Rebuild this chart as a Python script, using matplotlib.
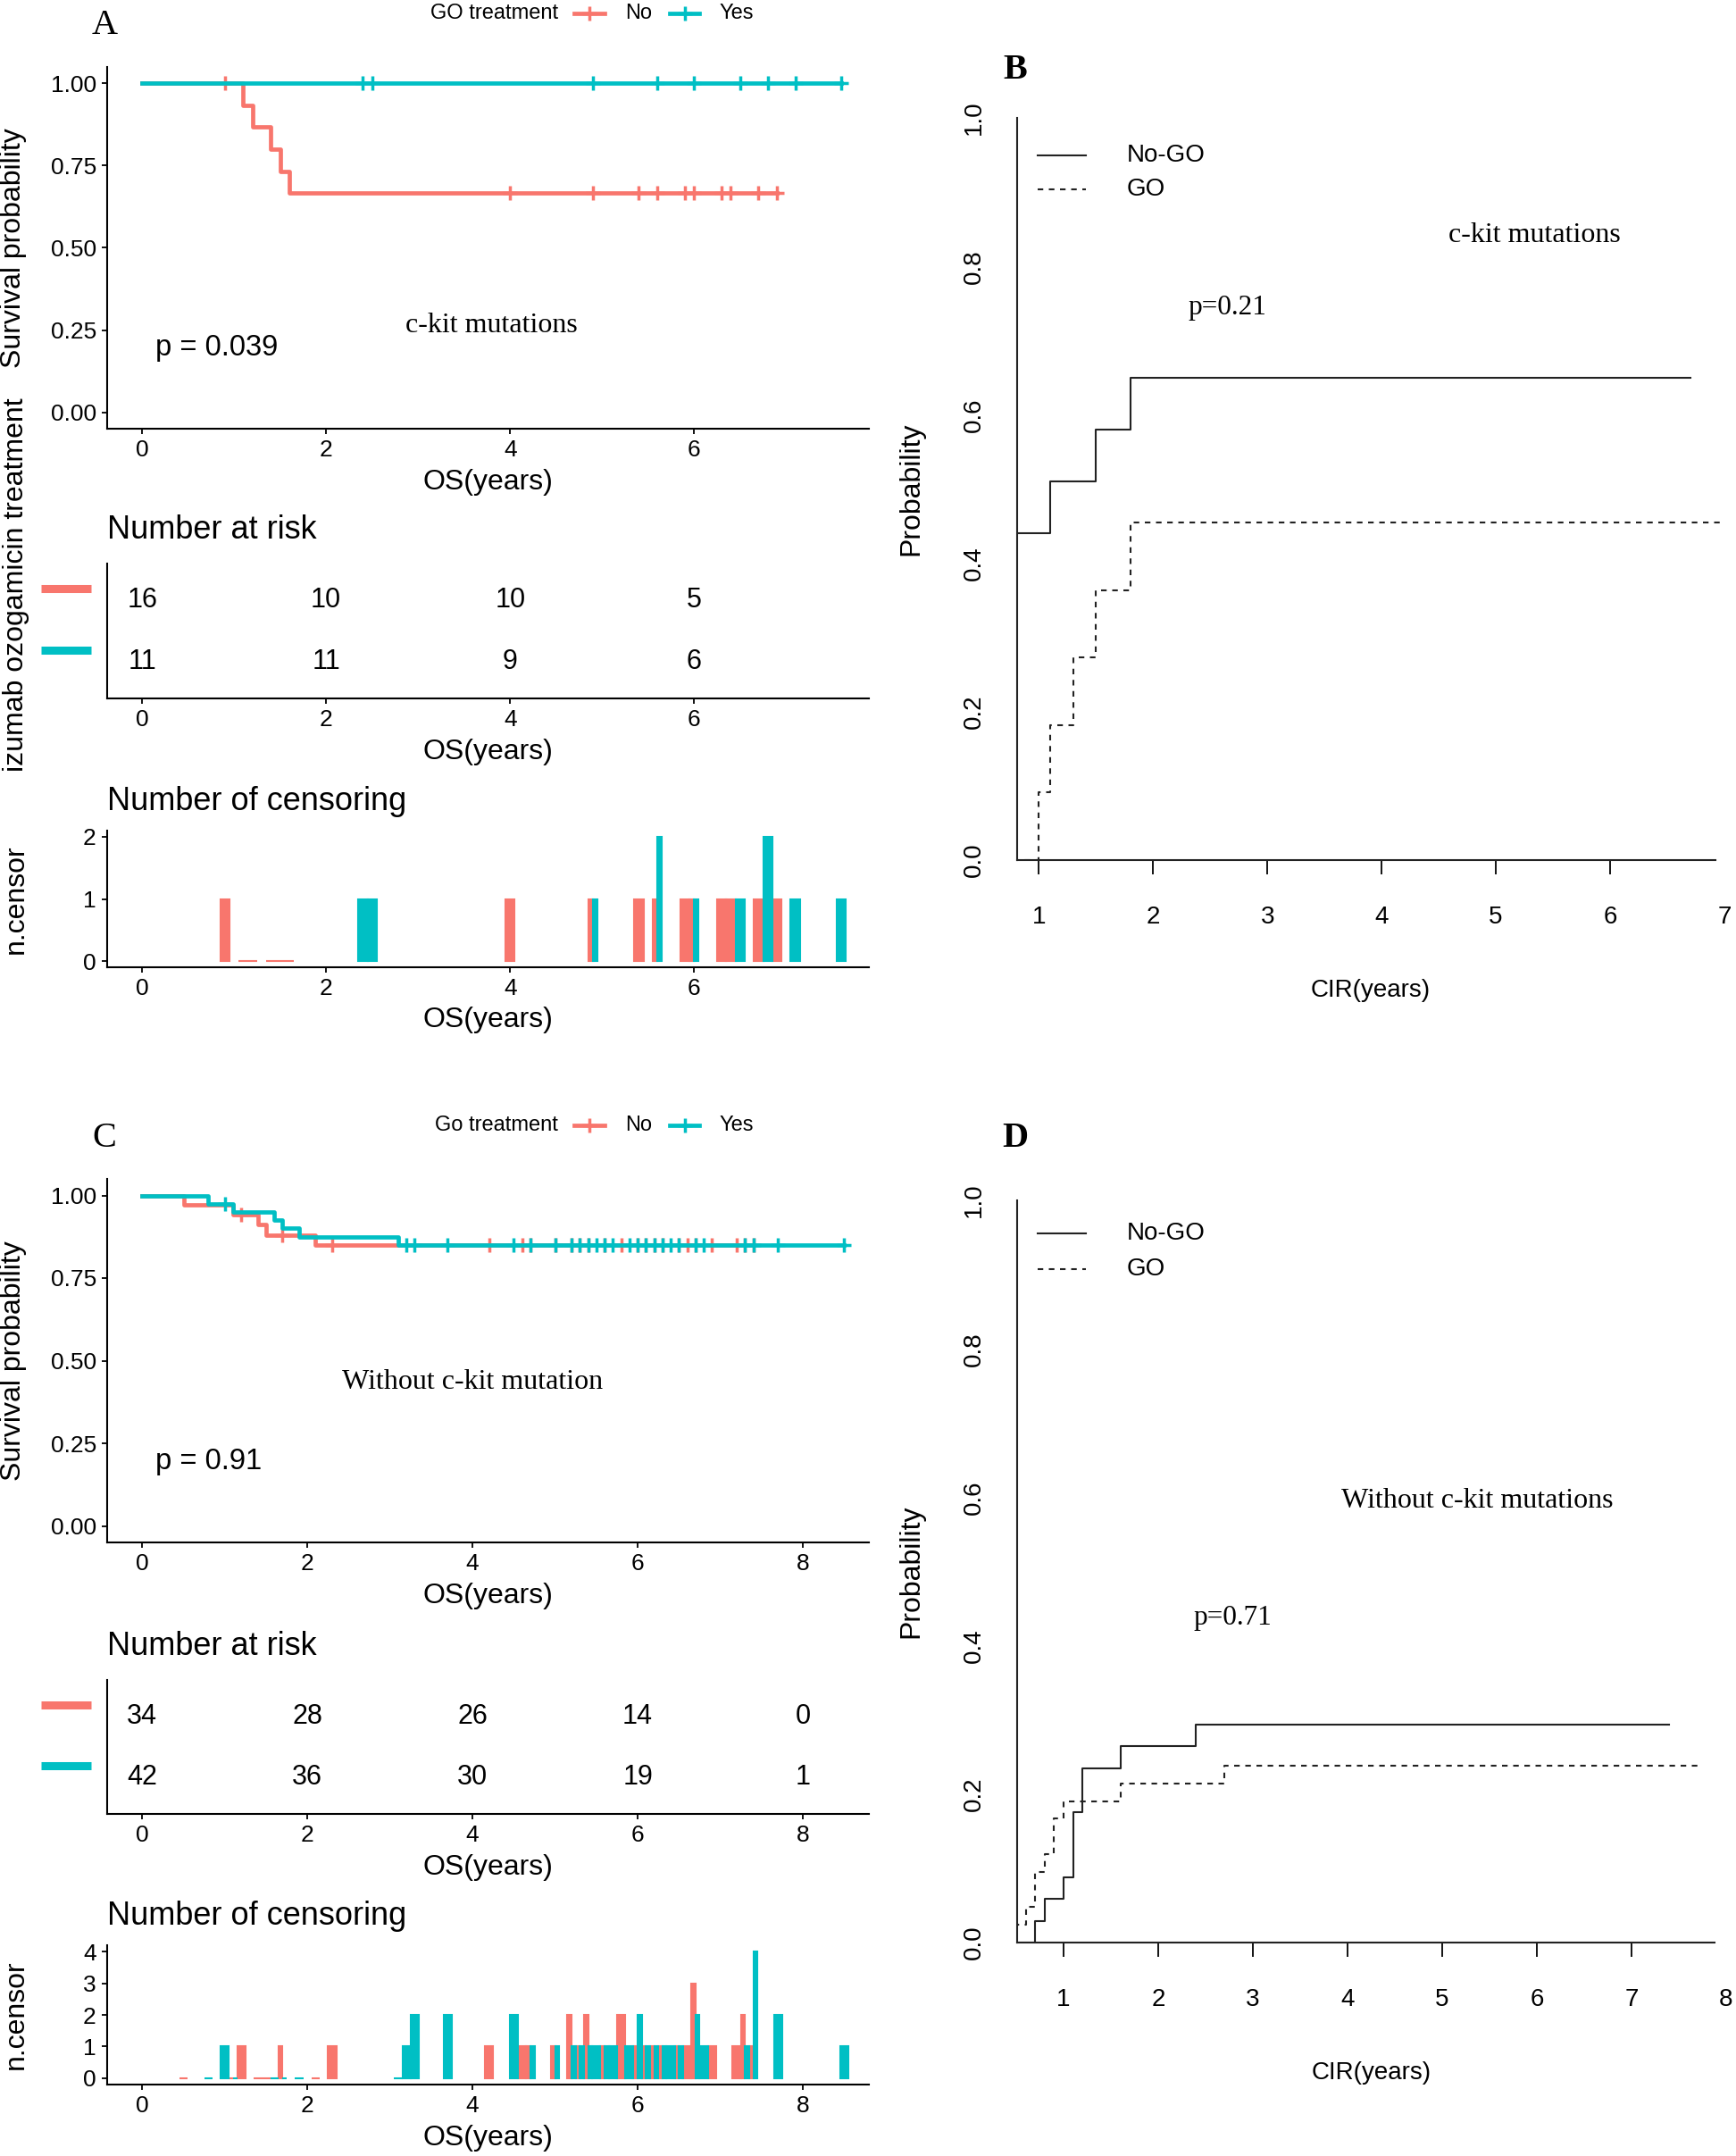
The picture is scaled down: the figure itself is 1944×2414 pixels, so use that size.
import matplotlib
matplotlib.use("Agg")
import matplotlib.pyplot as plt
from matplotlib.lines import Line2D
from matplotlib.transforms import blended_transform_factory

plt.rcParams['font.family'] = ['Liberation Sans', 'DejaVu Sans']
SERIF = ['Liberation Serif', 'DejaVu Serif']

RED = '#F8766D'
TEAL = '#00BFC4'
W, H = 1944, 2414

# ---- panel A: OS with c-kit mutations, by GO treatment ----
a_no_events = [1.1, 1.2, 1.4, 1.5, 1.6]
a_no_cens_t = [0.9, 4.0, 4.9, 5.4, 5.6, 5.9, 6.0, 6.3, 6.4, 6.7, 6.9]
a_no_cens_n = [1, 1, 1, 1, 1, 1, 1, 1, 1, 1, 1]
a_yes_events = []
a_yes_cens_t = [2.4, 2.5, 4.9, 5.6, 6.0, 6.5, 6.8, 7.1, 7.6]
a_yes_cens_n = [1, 1, 1, 2, 1, 1, 2, 1, 1]
a_risk_times = [0, 2, 4, 6]
a_risk_no = [16, 10, 10, 5]
a_risk_yes = [11, 11, 9, 6]

# ---- panel C: OS without c-kit mutation ----
c_no_events = [0.5, 1.1, 1.4, 1.5, 2.1]
c_no_cens_t = [1.2, 1.7, 2.3, 4.2, 4.6, 4.7, 5.0, 5.2, 5.3, 5.4, 5.6, 5.8,
               6.0, 6.1, 6.2, 6.3, 6.5, 6.6, 6.7, 6.9, 7.2, 7.3, 7.4]
c_no_cens_n = [1, 1, 1, 1, 1, 1, 1, 2, 1, 2, 1, 2,
               1, 1, 1, 1, 1, 1, 3, 1, 1, 2, 1]
c_yes_events = [0.8, 1.1, 1.6, 1.7, 1.9, 3.1]
c_yes_cens_t = [1.0, 3.2, 3.3, 3.7, 4.5, 4.7, 5.0, 5.2, 5.3, 5.4, 5.5, 5.6, 5.7, 5.9,
                6.0, 6.1, 6.2, 6.3, 6.4, 6.5, 6.7, 6.8, 7.3, 7.4, 7.7, 8.5]
c_yes_cens_n = [1, 1, 2, 2, 2, 1, 1, 1, 1, 1, 1, 1, 1, 1,
                2, 1, 1, 1, 1, 1, 2, 1, 1, 4, 2, 1]
c_risk_times = [0, 2, 4, 6, 8]
c_risk_no = [34, 28, 26, 14, 0]
c_risk_yes = [42, 36, 30, 19, 1]

# ---- panels B / D: cumulative incidence of relapse ----
b_nogo_t = [0.0, 1.1, 1.5, 1.8]
b_nogo_p = [0.44, 0.51, 0.58, 0.65]
b_nogo_end = 6.7
b_go_t = [0.0, 1.0, 1.1, 1.3, 1.5, 1.8]
b_go_p = [0.0, 0.091, 0.182, 0.273, 0.364, 0.455]
b_go_end = 7.0

d_nogo_t = [0.0, 0.7, 0.8, 1.0, 1.1, 1.2, 1.6, 2.4]
d_nogo_p = [0.0, 0.029, 0.059, 0.088, 0.176, 0.235, 0.265, 0.294]
d_nogo_end = 7.4
d_go_t = [0.0, 0.6, 0.7, 0.8, 0.9, 1.0, 1.6, 2.7]
d_go_p = [0.024, 0.048, 0.095, 0.119, 0.167, 0.190, 0.214, 0.238]
d_go_end = 7.7


def km_steps(events, cens_t, cens_n):
    end = max(list(events) + list(cens_t))
    xs, ys, s = [0.0], [1.0], 1.0
    for t in sorted(set(events)):
        at_risk = sum(1 for e in events if e >= t) + sum(n for c, n in zip(cens_t, cens_n) if c >= t)
        s *= 1 - events.count(t) / at_risk
        xs.append(t)
        ys.append(s)
    xs.append(end)
    ys.append(s)
    return xs, ys


def step_value(xs, ys, t):
    v = ys[0]
    for x, y in zip(xs, ys):
        if x <= t:
            v = y
    return v


def fbox(left, top, right, bottom):
    return [left / W, 1 - bottom / H, (right - left) / W, (bottom - top) / H]


def gg_axes(ax, xlim, xticks, h_px):
    for s in ['top', 'right']:
        ax.spines[s].set_visible(False)
    for s in ['left', 'bottom']:
        ax.spines[s].set_linewidth(1.5)
    ax.set_xlim(xlim)
    ax.set_xticks(xticks)
    ax.tick_params(length=4.3, width=1.3, labelsize=19, pad=4.5)
    ax.set_xlabel('OS(years)', fontsize=23, va='center')
    ax.xaxis.set_label_coords(0.5, -60 / h_px)


def survival_panel(ax, groups, xlim, xticks, note, note_xy, pval, p_xy):
    for ev, ct, cn, col in groups:
        xs, ys = km_steps(ev, ct, cn)
        ax.plot(xs, ys, drawstyle='steps-post', color=col, lw=3.4)
        ax.plot(ct, [step_value(xs, ys, t) for t in ct], '+', color=col, ms=12, mew=2.5)
    gg_axes(ax, xlim, xticks, 405)
    ax.set_ylim(-0.05, 1.05)
    ax.set_yticks([0, 0.25, 0.5, 0.75, 1.0])
    ax.set_yticklabels(['0.00', '0.25', '0.50', '0.75', '1.00'])
    ax.set_ylabel('Survival probability', fontsize=23, va='center')
    ax.yaxis.set_label_coords(-0.123, 0.5)
    ax.text(*note_xy, note, family=SERIF, fontsize=23, ha='center', va='center')
    ax.text(*p_xy, pval, fontsize=23.5, ha='center', va='center')


def risk_table(ax, times, no, yes, xlim, xticks):
    gg_axes(ax, xlim, xticks, 150)
    ax.set_ylim(0.4, 2.6)
    ax.set_yticks([])
    for t, a, b in zip(times, no, yes):
        ax.text(t, 2, str(a), ha='center', va='center', fontsize=22)
        ax.text(t, 1, str(b), ha='center', va='center', fontsize=22)
    trans = blended_transform_factory(ax.transAxes, ax.transData)
    for row, col in [(2, RED), (1, TEAL)]:
        ax.plot([-0.087, -0.021], [row + 0.19, row + 0.19], transform=trans, color=col,
                lw=6.5, solid_capstyle='butt', clip_on=False)
    ax.text(0.0, 1.25, 'Number at risk', transform=ax.transAxes, fontsize=26,
            ha='left', va='center')


def censor_panel(ax, groups, xlim, xticks, ymax, yticks, width=0.1):
    entries = []
    for ev, ct, cn, col in groups:
        d = dict(zip(ct, cn))
        for e in ev:
            d.setdefault(e, 0)
        entries.append((d, col))
    for k, (d, col) in enumerate(entries):
        other = entries[1 - k][0]
        xs, hs, ws = [], [], []
        for t, n in sorted(d.items()):
            if t in other:
                xs.append(t - width / 4 if k == 0 else t + width / 4)
                ws.append(width / 2)
            else:
                xs.append(t)
                ws.append(width)
            hs.append(n)
        ax.bar(xs, hs, width=ws, color=col, edgecolor=col, linewidth=1.5)
    gg_axes(ax, xlim, xticks, 155)
    ax.set_ylim(-0.05 * ymax, 1.05 * ymax)
    ax.set_yticks(yticks)
    ax.set_ylabel('n.censor', fontsize=23, va='center')
    ax.yaxis.set_label_coords(-0.120, 0.5)
    ax.text(0.0, 1.21, 'Number of censoring', transform=ax.transAxes, fontsize=26,
            ha='left', va='center')


def cir_panel(ax, nogo, go, xlim, spine_end, xticks, note, note_xy, leg_y, pval, p_xy, h_px):
    for (t, p, end), ls in [(nogo, '-'), (go, (0, (3, 3)))]:
        ax.plot(list(t) + [end], list(p) + [p[-1]], drawstyle='steps-post',
                color='#222222', lw=1.5, ls=ls)
    for s in ['top', 'right']:
        ax.spines[s].set_visible(False)
    for s in ['left', 'bottom']:
        ax.spines[s].set_linewidth(1.5)
        ax.spines[s].set_color('#222222')
    ax.set_xlim(xlim)
    ax.set_ylim(0, 1.0)
    ax.spines['bottom'].set_bounds(xlim[0], spine_end)
    ax.set_xticks(xticks)
    ax.xaxis.get_major_ticks()[-1].tick1line.set_visible(False)
    ax.set_yticks([0, 0.2, 0.4, 0.6, 0.8, 1.0])
    ax.set_yticklabels(['0.0', '0.2', '0.4', '0.6', '0.8', '1.0'])
    ax.tick_params(axis='x', length=11.5, width=1.3, labelsize=20, pad=25)
    ax.tick_params(axis='y', length=0, labelsize=20, pad=25, labelrotation=90)
    for lab in ax.get_yticklabels():
        lab.set_va('center')
    ax.set_ylabel('Probability', fontsize=23, va='center')
    ax.yaxis.set_label_coords(-0.150, 0.5)
    ax.set_xlabel('CIR(years)', fontsize=20, va='center')
    ax.xaxis.set_label_coords(0.5, -146 / h_px)
    for yy, ls, lab in [(leg_y[0], '-', 'No-GO'), (leg_y[1], (0, (3, 3)), 'GO')]:
        ax.plot([0.029, 0.097], [yy, yy], transform=ax.transAxes, color='#222222', lw=1.5, ls=ls)
        ax.text(0.155, yy, lab, transform=ax.transAxes, fontsize=20, ha='left', va='center')
    ax.text(*note_xy, note, transform=ax.transAxes, family=SERIF,
            fontsize=23, ha='center', va='center')
    ax.text(*p_xy, pval, transform=ax.transAxes, family=SERIF, fontsize=22.5,
            ha='center', va='center')


fig = plt.figure(figsize=(W / 100, H / 100), dpi=100)

axA = fig.add_axes(fbox(120, 75, 973, 480))
axA_risk = fig.add_axes(fbox(120, 631, 973, 782))
axA_cens = fig.add_axes(fbox(120, 930, 973, 1083))
axC = fig.add_axes(fbox(120, 1320, 973, 1727))
axC_risk = fig.add_axes(fbox(120, 1881, 973, 2031))
axC_cens = fig.add_axes(fbox(120, 2178, 973, 2334))
axB = fig.add_axes(fbox(1139, 132, 1931, 963))
axD = fig.add_axes(fbox(1139, 1344, 1933, 2175))

a_groups = [(a_no_events, a_no_cens_t, a_no_cens_n, RED),
            (a_yes_events, a_yes_cens_t, a_yes_cens_n, TEAL)]
c_groups = [(c_no_events, c_no_cens_t, c_no_cens_n, RED),
            (c_yes_events, c_yes_cens_t, c_yes_cens_n, TEAL)]

xlim_a, xt_a = (-0.38, 7.9), [0, 2, 4, 6]
xlim_c, xt_c = (-0.425, 8.8), [0, 2, 4, 6, 8]

survival_panel(axA, a_groups, xlim_a, xt_a, 'c-kit mutations', (3.8, 0.265), 'p = 0.039', (0.81, 0.195))
risk_table(axA_risk, a_risk_times, a_risk_no, a_risk_yes, xlim_a, xt_a)
censor_panel(axA_cens, a_groups, xlim_a, xt_a, 2, [0, 1, 2])

survival_panel(axC, c_groups, xlim_c, xt_c, 'Without c-kit mutation', (4.0, 0.435), 'p = 0.91', (0.8, 0.195))
risk_table(axC_risk, c_risk_times, c_risk_no, c_risk_yes, xlim_c, xt_c)
censor_panel(axC_cens, c_groups, xlim_c, xt_c, 4, [0, 1, 2, 3, 4])

cir_panel(axB, (b_nogo_t, b_nogo_p, b_nogo_end), (b_go_t, b_go_p, b_go_end),
          (0.81, 7.0), 6.92, range(1, 8), 'c-kit mutations', (0.731, 0.842), (0.950, 0.904),
          'p=0.21', (0.297, 0.744), 831)
cir_panel(axD, (d_nogo_t, d_nogo_p, d_nogo_end), (d_go_t, d_go_p, d_go_end),
          (0.51, 8.0), 7.88, range(1, 9), 'Without c-kit mutations', (0.649, 0.595), (0.955, 0.907),
          'p=0.71', (0.304, 0.437), 831)

# visible part of the risk-table title in panel A (its start is cut off in the figure)
fig.text(18 / W, 1 - 655 / H, 'izumab ozogamicin treatment', rotation=90,
         ha='center', va='center', fontsize=23)


def top_legend(y_px, title):
    yf = 1 - y_px / H
    fig.text(625 / W, yf, title, ha='right', va='center', fontsize=17)
    for x0, x1, col, lab, lx in [(643, 677, RED, 'No', 700), (750, 783, TEAL, 'Yes', 806)]:
        fig.add_artist(Line2D([x0 / W, x1 / W], [yf, yf], color=col, lw=3.4))
        fig.add_artist(Line2D([(x0 + x1) / 2 / W], [yf], marker='+', color=col, ms=12, mew=2.5))
        fig.text(lx / W, yf, lab, ha='left', va='center', fontsize=17)


top_legend(15, 'GO treatment')
top_legend(1260, 'Go treatment')

for lab, x, y, wt in [('A', 117, 28, 'normal'), ('C', 117, 1275, 'normal'),
                      ('B', 1137, 79, 'bold'), ('D', 1137, 1275, 'bold')]:
    fig.text(x / W, 1 - y / H, lab, family=SERIF, fontsize=29, fontweight=wt,
             ha='center', va='center')

fig.savefig('out.png', dpi=100, facecolor='white')
